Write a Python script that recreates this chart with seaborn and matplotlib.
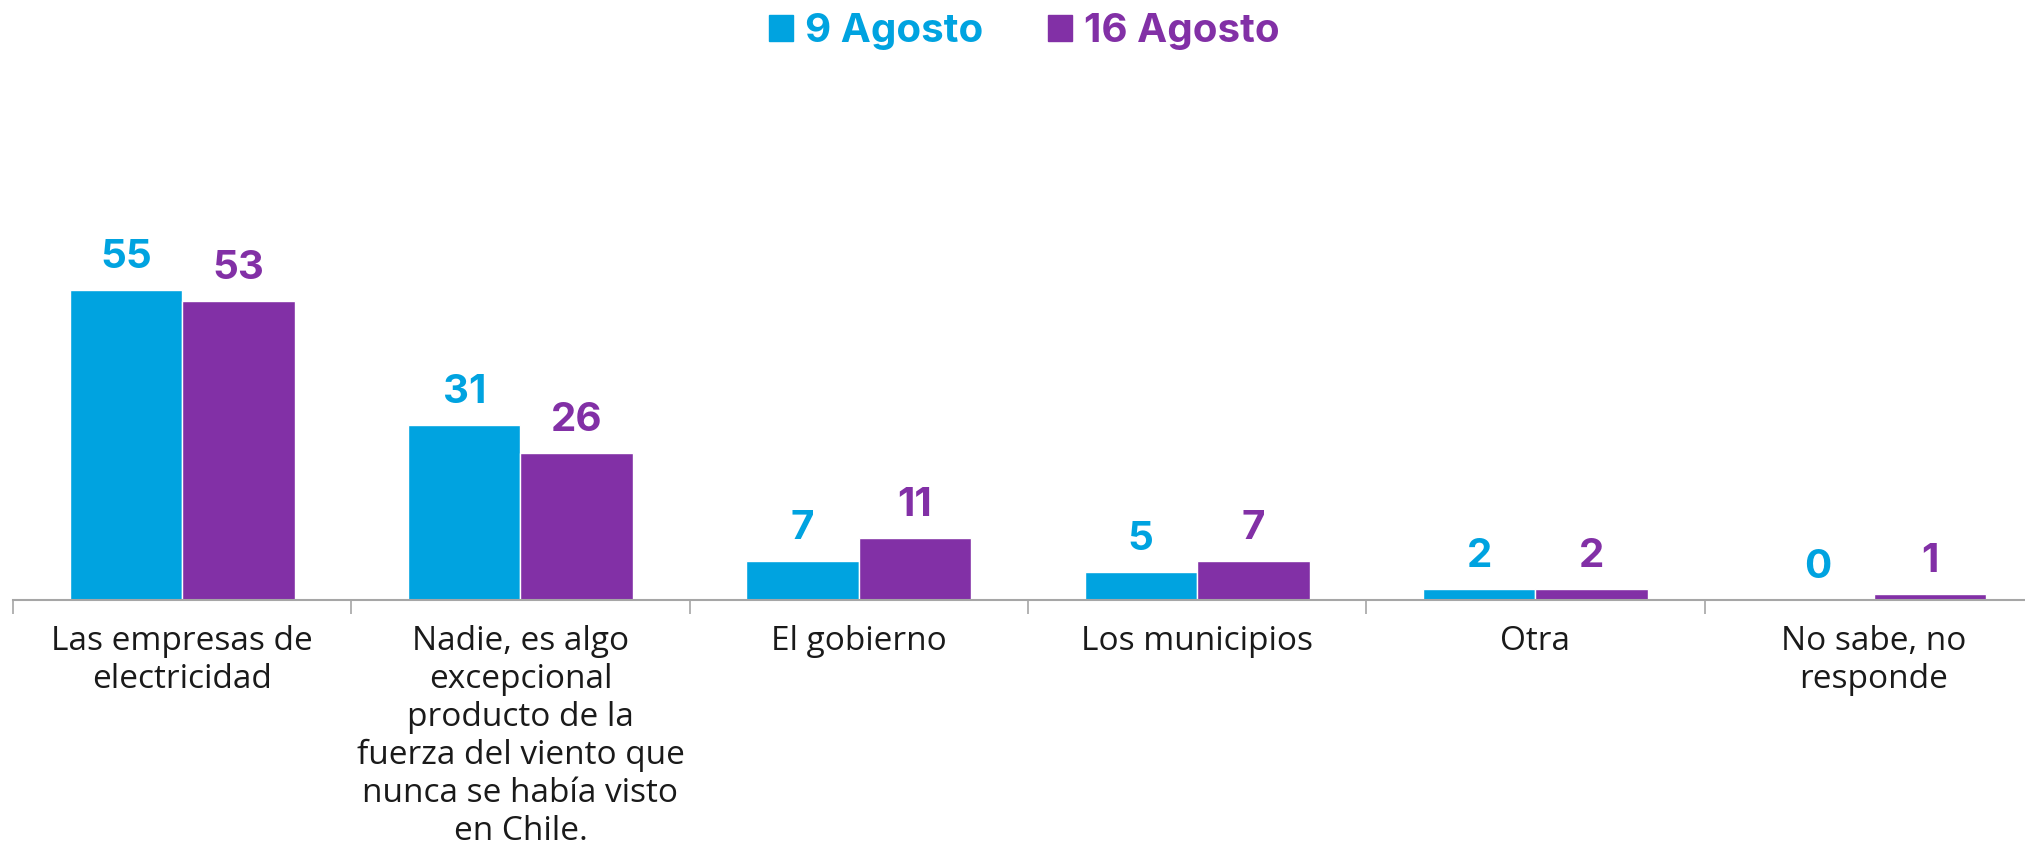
import matplotlib.pyplot as plt
import pandas as pd
import seaborn as sns

# Data
categories = [
    "Las empresas de\nelectricidad",
    "Nadie, es algo\nexcepcional\nproducto de la\nfuerza del viento que\nnunca se había visto\nen Chile.",
    "El gobierno",
    "Los municipios",
    "Otra",
    "No sabe, no\nresponde",
]
series_names = ["9 Agosto", "16 Agosto"]
values_9 = [55, 31, 7, 5, 2, 0]
values_16 = [53, 26, 11, 7, 2, 1]
colors = ["#00A3E0", "#8230A6"]

df = pd.DataFrame({
    "Categoria": categories * 2,
    "Serie": [series_names[0]] * len(categories) + [series_names[1]] * len(categories),
    "Valor": values_9 + values_16,
})

sns.set_theme(style="white")
plt.rcParams["font.family"] = ["Open Sans", "DejaVu Sans"]

fig = plt.figure(figsize=(20.25, 8.51), dpi=100)
ax = fig.add_axes([13 / 2025, 1 - 600 / 851, 6 * 338.3 / 2025, (600 - 36) / 851])

sns.barplot(data=df, x="Categoria", y="Valor", hue="Serie", palette=colors,
            width=0.665, saturation=1, ax=ax, legend=False)

ax.set_ylim(0, 100)
ax.set_xlim(-0.5, len(categories) - 0.5)

# Value labels
for container, c in zip(ax.containers, colors):
    ax.bar_label(container, labels=[f"{v:.0f}" for v in container.datavalues],
                 padding=10, color=c, fontsize=29, fontweight="bold", family=["Inter", "DejaVu Sans"])

# Axis styling
for side in ["top", "right", "left"]:
    ax.spines[side].set_visible(False)
ax.spines["bottom"].set_color("#A6A6A6")
ax.spines["bottom"].set_linewidth(1.5)
ax.set_yticks([])
ax.set_xlabel("")
ax.set_ylabel("")
ax.set_xticks(range(len(categories)))
ax.set_xticklabels(categories, fontsize=24, color="#1a1a1a", linespacing=1.2)
ax.tick_params(axis="x", which="major", bottom=True, length=0, pad=18)
# boundary ticks between categories
ax.set_xticks([i - 0.5 for i in range(len(categories) + 1)], minor=True)
ax.tick_params(axis="x", which="minor", bottom=True, length=10, width=1.2,
               color="#A6A6A6", direction="out")

# Legend
handles = [plt.Rectangle((0, 0), 1, 1, color=c) for c in colors]
leg = fig.legend(handles, series_names, loc="upper center", bbox_to_anchor=(0.506, 1.027),
                 ncol=2, frameon=False, handlelength=0.6, handleheight=0.6,
                 handletextpad=0.3, columnspacing=1.6,
                 prop={"family": ["Inter", "DejaVu Sans"], "weight": "bold", "size": 29})
for t, c in zip(leg.get_texts(), colors):
    t.set_color(c)

plt.savefig("out.png", dpi=100)
plt.close()
